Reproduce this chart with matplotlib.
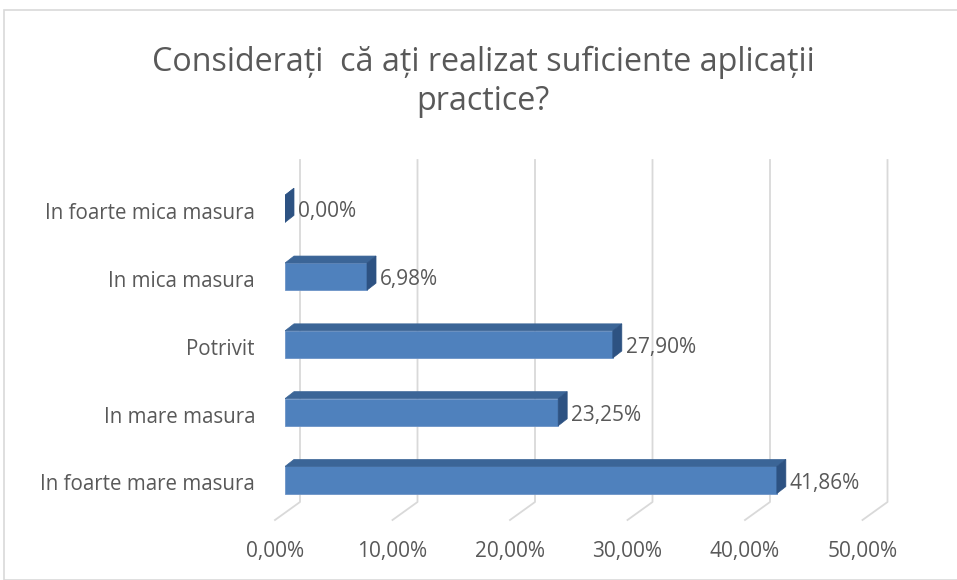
import matplotlib
matplotlib.use("Agg")
import matplotlib.pyplot as plt
from matplotlib.patches import Rectangle, Polygon
from matplotlib.lines import Line2D

categories = ["In foarte mare masura", "In mare masura", "Potrivit",
              "In mica masura", "In foarte mica masura"]
values = [41.86, 23.25, 27.90, 6.98, 0.00]
value_labels = ["41,86%", "23,25%", "27,90%", "6,98%", "0,00%"]
ticks = [0, 10, 20, 30, 40, 50]
tick_labels = ["0,00%", "10,00%", "20,00%", "30,00%", "40,00%", "50,00%"]
title = "Considerați  că ați realizat suficiente aplicații\npractice?"

FONT = ["Open Sans", "DejaVu Sans"]
TXT = "#595959"
W, H = 957, 580
fig = plt.figure(figsize=(W / 100, H / 100), dpi=100)

# front-plane axes (pixel layout)
x0, x1 = 285, 872.5
y_top, y_bot = 174.9, 513.9
ax = fig.add_axes([x0 / W, 1 - y_bot / H, (x1 - x0) / W, (y_bot - y_top) / H])
ax.set_xlim(0, 50)
ax.set_ylim(-0.5, len(categories) - 0.5)
ax.axis("off")

fig.patches.append(Rectangle((4 / W, 0), 1, 1 - 10 / H, transform=fig.transFigure,
                             fill=False, edgecolor="#D9D9D9", linewidth=1.2))

inv = ax.transData.inverted()
def px(xd, ypx):
    """display x, pixel y from top -> data coords"""
    return inv.transform((xd, H - ypx))

def xdisp(v):
    return ax.transData.transform((v, 0))[0]

# gridlines (3D style: back vertical + slanted floor segment)
for t, lab in zip(ticks, tick_labels):
    xd = xdisp(t)
    p_top = px(xd + 15, 160)
    p_mid = px(xd + 15, 502)
    p_bot = px(xd - 10, 520)
    ax.add_line(Line2D([p_top[0], p_mid[0], p_bot[0]], [p_top[1], p_mid[1], p_bot[1]],
                       color="#D9D9D9", linewidth=1.3, clip_on=False, zorder=0))
    pl = px(xd - 10, 551)
    ax.text(pl[0], pl[1], lab, ha="center", va="center", fontsize=15,
            color=TXT, family=FONT)

# bars with pseudo-3D faces
h = 0.4
bb = ax.get_window_extent()
sx = (ax.get_xlim()[1] - ax.get_xlim()[0]) / bb.width
sy = (ax.get_ylim()[1] - ax.get_ylim()[0]) / bb.height
ddx, ddy = 9 * sx, 7 * sy
front_c = "#4F81BD"
top_c = "#3B6597"
side_c = "#2D5282"
for i, (v, lab) in enumerate(zip(values, value_labels)):
    yb, yt = i - h / 2, i + h / 2
    ax.add_patch(Rectangle((0, yb), v, h, facecolor=front_c, edgecolor="#6C93C7",
                           linewidth=0.6, zorder=3))
    ax.add_patch(Polygon([(0, yt), (v, yt), (v + ddx, yt + ddy), (ddx, yt + ddy)],
                         closed=True, facecolor=top_c, edgecolor=top_c,
                         linewidth=0.5, zorder=3))
    ax.add_patch(Polygon([(v, yb), (v, yt), (v + ddx, yt + ddy), (v + ddx, yb + ddy)],
                         closed=True, facecolor=side_c, edgecolor=side_c,
                         linewidth=0.5, zorder=3))
    ax.text(v + 13 * sx, i - 3 * sy, lab, ha="left", va="center", fontsize=15,
            color=TXT, family=FONT, zorder=4)
    ax.text(-30 * sx, i - 5 * sy, categories[i], ha="right", va="center", fontsize=14.8,
            color=TXT, family=FONT)

fig.text(483 / W, 1 - 82 / H, title, ha="center", va="center", fontsize=23.2,
         color=TXT, family=FONT, linespacing=1.24)

fig.savefig("out.png", dpi=100, facecolor="white")
